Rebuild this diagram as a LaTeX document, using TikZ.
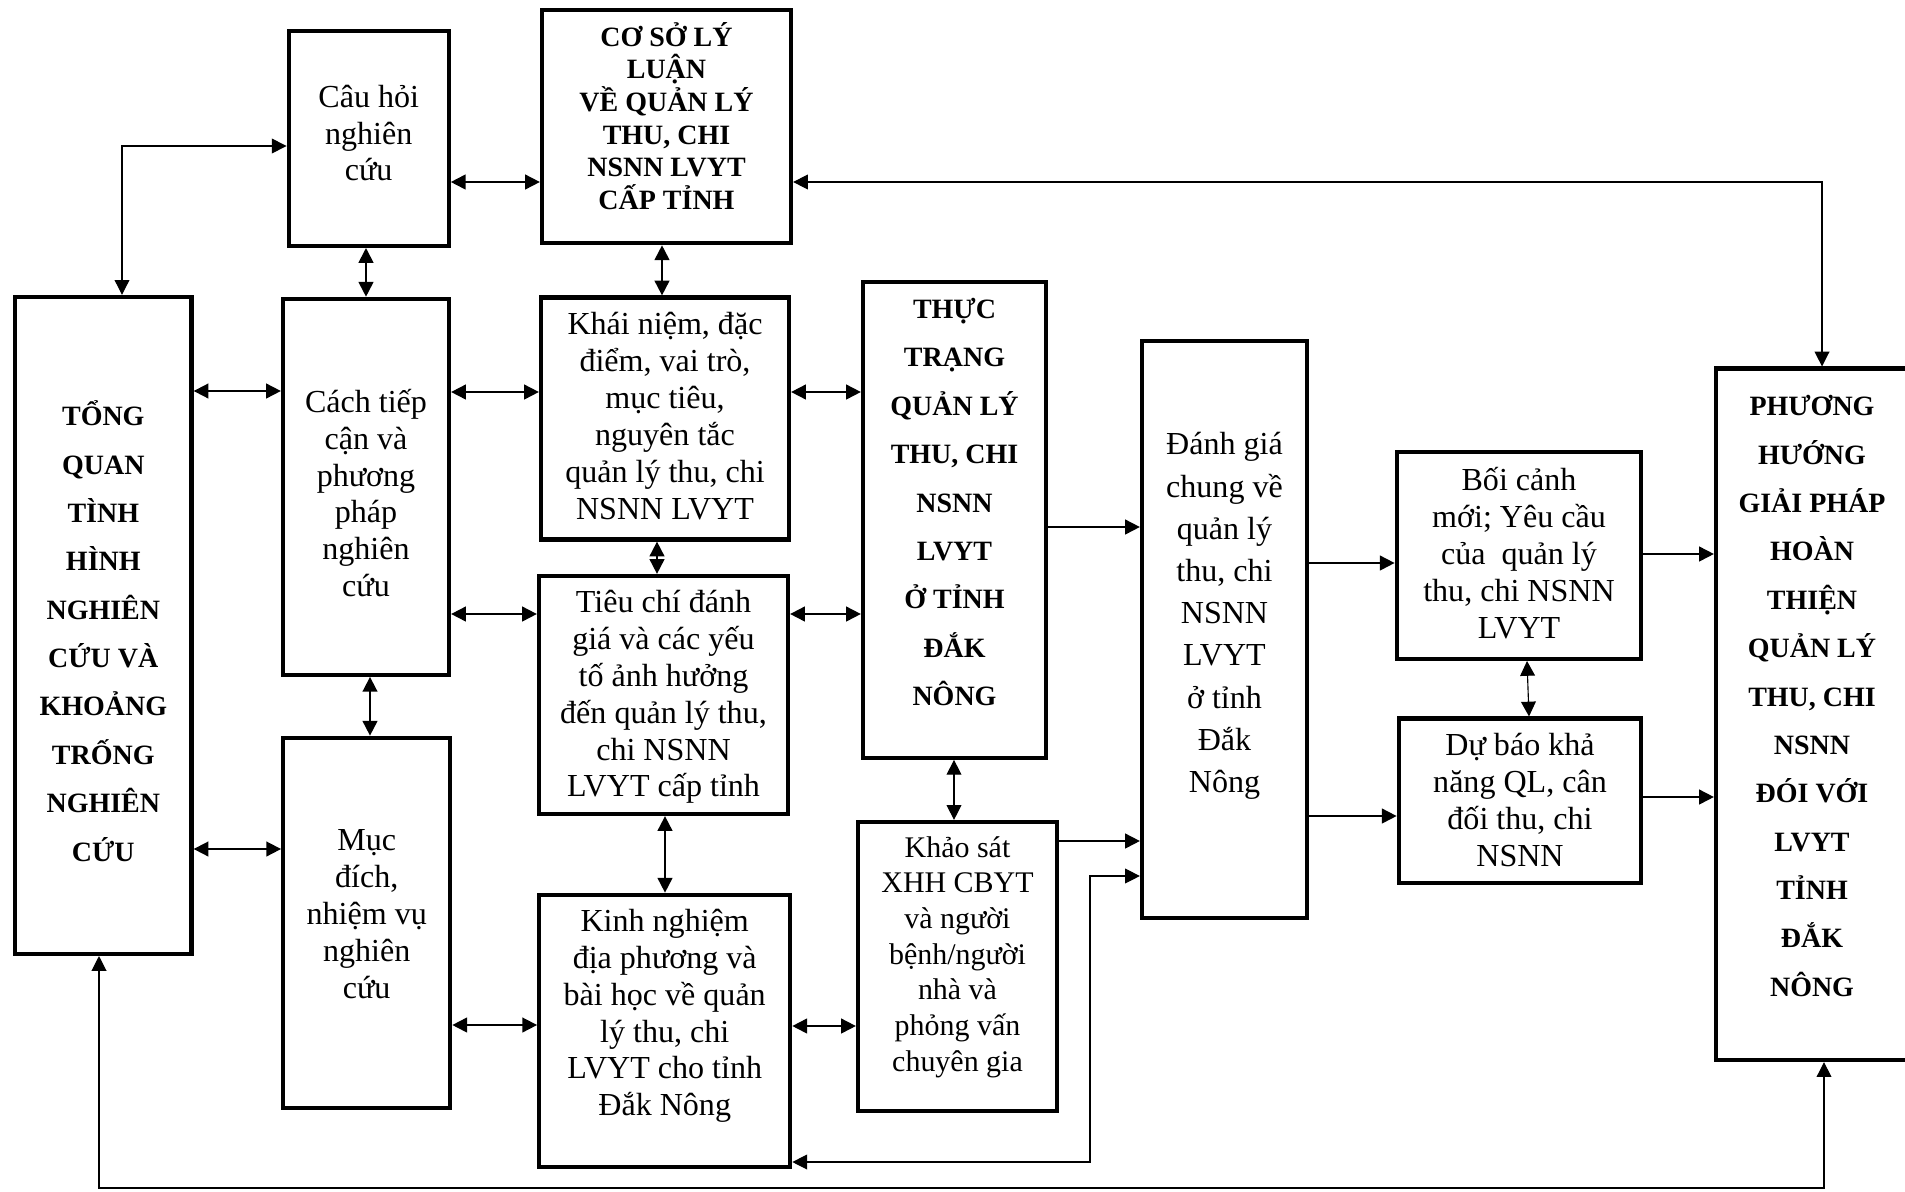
\documentclass[tikz,border=0pt]{standalone}
\usepackage{fontspec}
\setmainfont{Liberation Serif}
\usetikzlibrary{calc, arrows.meta, positioning}

\begin{document}
\begin{tikzpicture}[
    x=0.025cm, y=-0.025cm,
    box/.style={draw, line width=3pt, inner sep=0pt},
    sz/.style 2 args={minimum width=#1*0.025cm, minimum height=#2*0.025cm},
    bodytxt/.style={align=center, inner sep=0pt, font=\fontsize{22.8pt}{26.2pt}\selectfont},
    headtxt/.style={align=center, inner sep=0pt, font=\fontsize{19.9pt}{34.4pt}\selectfont\bfseries},
    >={Triangle[length=10.5pt, width=10.5pt]},
    dbl/.style={<->, line width=1.3pt},
    arr/.style={->, line width=1.3pt},
    lnk/.style={<->, line width=0.8pt},
  ]
  \useasboundingbox (0,0) rectangle (1905,1191);
  \clip (0,0) rectangle (1905,1191);

  % boxes
  \node[box, sz={160}{215}] (q) at (368.7,138.4) {};
  \node[box, sz={249}{233}] (cs) at (666.5,126.7) {};
  \node[box, sz={176.5}{657}] (tq) at (103.3,625.4) {};
  \node[box, sz={166}{376}] (ctc) at (366,486.8) {};
  \node[box, sz={248}{242}] (kn) at (665,418.5) {};
  \node[box, sz={249}{238}] (tc) at (663.5,695) {};
  \node[box, sz={167}{370.5}] (md) at (366.7,923) {};
  \node[box, sz={251}{272.5}] (kng) at (664.7,1031) {};
  \node[box, sz={183}{475.5}] (tt) at (954.5,520) {};
  \node[box, sz={199}{289}] (ks) at (957.5,966.5) {};
  \node[box, sz={165}{577}] (dg) at (1224.5,629.4) {};
  \node[box, sz={244.5}{207}] (bc) at (1519,555.4) {};
  \node[box, sz={242.5}{164.5}] (db) at (1520,800.8) {};
  \node[box, sz={192}{691.5}] (ph) at (1812,714.3) {};

  % texts
  \node[bodytxt] (qt) at (368.7,133) {Câu hỏi\\nghiên\\cứu};
  \node[headtxt, font=\fontsize{19.9pt}{23.2pt}\selectfont\bfseries] (cst) at (666.5,116)
    {CƠ SỞ LÝ\\LUẬN\\VỀ QUẢN LÝ\\THU, CHI\\NSNN LVYT\\CẤP TỈNH};
  \node[headtxt] (tqt) at (103.3,631)
    {TỔNG\\QUAN\\TÌNH\\HÌNH\\NGHIÊN\\CỨU VÀ\\KHOẢNG\\TRỐNG\\NGHIÊN\\CỨU};
  \node[bodytxt] (ctct) at (366,493) {Cách tiếp\\cận và\\phương\\pháp\\nghiên\\cứu};
  \node[bodytxt] (knt) at (665,416)
    {Khái niệm, đặc\\điểm, vai trò,\\mục tiêu,\\nguyên tắc\\quản lý thu, chi\\NSNN LVYT};
  \node[bodytxt] (tct) at (663.5,697)
    {Tiêu chí đánh\\giá và các yếu\\tố ảnh hưởng\\đến quản lý thu,\\chi NSNN\\LVYT cấp tỉnh};
  \node[bodytxt] (mdt) at (366.7,914) {Mục\\đích,\\nhiệm vụ\\nghiên\\cứu};
  \node[bodytxt] (kngt) at (664.7,1016)
    {Kinh nghiệm\\địa phương và\\bài học về quản\\lý thu, chi\\LVYT cho tỉnh\\Đắk Nông};
  \node[headtxt] (ttt) at (954.5,502)
    {THỰC\\TRẠNG\\QUẢN LÝ\\THU, CHI\\NSNN\\LVYT\\Ở TỈNH\\ĐẮK\\NÔNG};
  \node[bodytxt, font=\fontsize{21.3pt}{25.4pt}\selectfont] (kst) at (957.5,957)
    {Khảo sát\\XHH CBYT\\và người\\bệnh/người\\nhà và\\phỏng vấn\\chuyên gia};
  \node[bodytxt, font=\fontsize{22.8pt}{30pt}\selectfont] (dgt) at (1224.5,616)
    {Đánh giá\\chung về\\quản lý\\thu, chi\\NSNN\\LVYT\\ở tỉnh\\Đắk\\Nông};
  \node[bodytxt] (bct) at (1519,553) {Bối cảnh\\mới; Yêu cầu\\của~ quản lý\\thu, chi NSNN\\LVYT};
  \node[bodytxt] (dbt) at (1520,800) {Dự báo khả\\năng QL, cân\\đối thu, chi\\NSNN};
  \node[headtxt] (pht) at (1812,696)
    {PHƯƠNG\\HƯỚNG\\GIẢI PHÁP\\HOÀN\\THIỆN\\QUẢN LÝ\\THU, CHI\\NSNN\\ĐÓI VỚI\\LVYT\\TỈNH\\ĐẮK\\NÔNG};

  % two-way links
  \foreach \a/\b/\y in {q/cs/182, tq/ctc/391, ctc/kn/392, kn/tt/392, ctc/tc/614,
                        tc/tt/614, tq/md/849, md/kng/1025, kng/ks/1026}
    \draw[dbl] (\a.east |- 0,\y) -- (\b.west |- 0,\y);
  \foreach \a/\b/\x in {q/ctc/366, cs/kn/662, ctc/md/370, kn/tc/657, tc/kng/665}
    \draw[dbl] (\a.south -| \x,0) -- (\b.north -| \x,0);
  \draw[lnk] (tt.south -| 954,0) -- (ks.north -| 954,0);
  \draw[lnk] (bc.south -| 1527,0) -- (db.north -| 1529,0);

  % one-way links
  \foreach \a/\b/\y in {tt/dg/527, ks/dg/841, dg/bc/563, dg/db/816, bc/ph/554, db/ph/797}
    \draw[arr] (\a.east |- 0,\y) -- (\b.west |- 0,\y);

  % long return lines
  \draw[lnk] (tq.north -| 122,0) |- (q.west |- 0,146);
  \draw[lnk] (cs.east |- 0,182) -| (ph.north -| 1822,0);
  \draw[lnk] (ph.south -| 1824,0) -- (1824,1188) -| (tq.south -| 99,0);
  \draw[lnk] (dg.west |- 0,876) -| (1090,1162) -- (kng.east |- 0,1162);
\end{tikzpicture}
\end{document}
